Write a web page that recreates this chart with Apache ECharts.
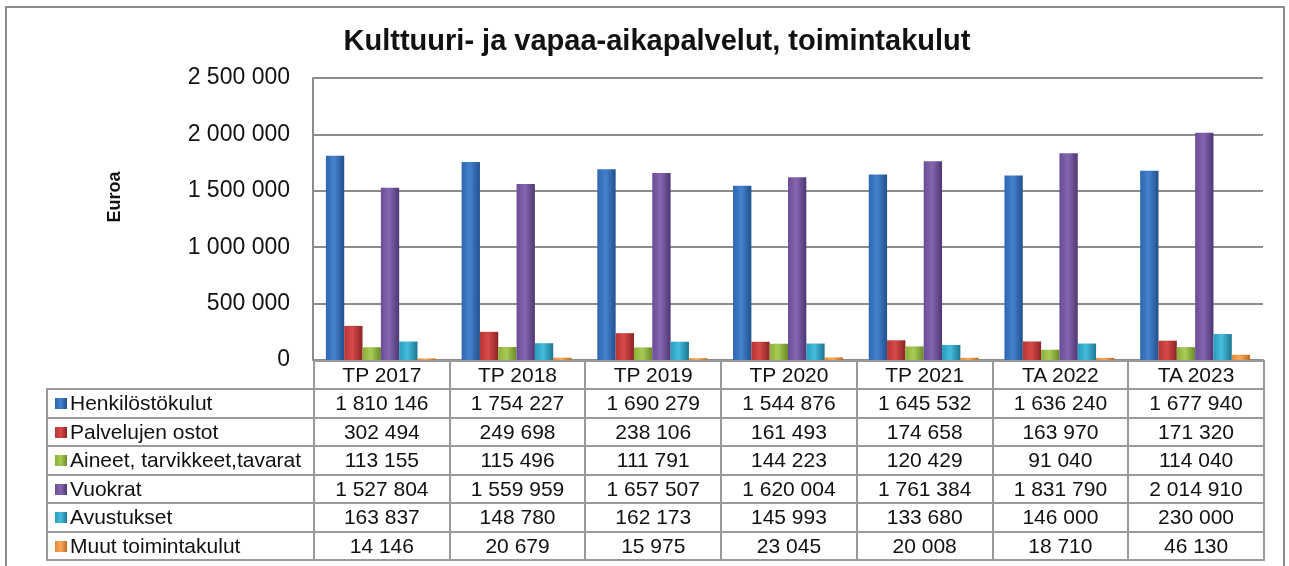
<!DOCTYPE html>
<html lang="fi">
<head>
    <meta charset="UTF-8">
    <title>Kulttuuri- ja vapaa-aikapalvelut</title>
    <script src="https://cdn.jsdelivr.net/npm/echarts@6/dist/echarts.min.js"></script>
    <style>
        body {
            margin: 0;
            background: #fff;
            font-family: "Liberation Sans", Arial, sans-serif;
        }
        .frame {
            position: absolute;
            left: 5px;
            top: 6px;
            width: 1280px;
            height: 580px;
            border: 2px solid #8c8c8c;
            box-sizing: border-box;
        }
        #main {
            position: absolute;
            left: 0;
            top: 0;
            width: 1289px;
            height: 566px;
        }
        #dataTable {
            position: absolute;
            left: 46px;
            top: 360px;
            border-collapse: collapse;
            table-layout: fixed;
            font-size: 21px;
            color: #111;
        }
        #dataTable td {
            border: 2px solid #9a9a9a;
            height: 26.5px;
            padding: 0;
            text-align: center;
            white-space: nowrap;
            overflow: hidden;
        }
        #dataTable tr.head td {
            height: 26px;
        }
        #dataTable td.name {
            text-align: left;
            padding-left: 7px;
        }
        #dataTable tr.head td.blank {
            border: none;
            border-right: 2px solid #9a9a9a;
        }
        .key {
            display: inline-block;
            width: 12px;
            height: 11px;
            margin-right: 3px;
            vertical-align: 1px;
        }
    </style>
</head>
<body>
<div id="main"></div>
<div class="frame"></div>
<table id="dataTable"></table>

<script>
    var categories = ['TP 2017', 'TP 2018', 'TP 2019', 'TP 2020', 'TP 2021', 'TA 2022', 'TA 2023'];
    var seriesNames = ['Henkilöstökulut', 'Palvelujen ostot', 'Aineet, tarvikkeet,tavarat', 'Vuokrat', 'Avustukset', 'Muut toimintakulut'];

    var henkilostokulut = [1810146, 1754227, 1690279, 1544876, 1645532, 1636240, 1677940];
    var palvelujenOstot = [302494, 249698, 238106, 161493, 174658, 163970, 171320];
    var aineet = [113155, 115496, 111791, 144223, 120429, 91040, 114040];
    var vuokrat = [1527804, 1559959, 1657507, 1620004, 1761384, 1831790, 2014910];
    var avustukset = [163837, 148780, 162173, 145993, 133680, 146000, 230000];
    var muut = [14146, 20679, 15975, 23045, 20008, 18710, 46130];

    var yTicks = [0, 500000, 1000000, 1500000, 2000000, 2500000];

    var allValues = [henkilostokulut, palvelujenOstot, aineet, vuokrat, avustukset, muut];
    // dark edge / light centre / base colour, like the bevelled bars in excel
    var palette = [
        ['#22508c', '#4482cf', '#2f66ae'],
        ['#8c2424', '#d64a48', '#b53535'],
        ['#6a8a28', '#a9cc55', '#8aae3a'],
        ['#4e3672', '#8466b0', '#6b4c96'],
        ['#1c7591', '#45bddc', '#2a9cbe'],
        ['#bf6a22', '#f8a85a', '#e58a3a']
    ];

    function fmt(v) {
        return String(v).replace(/\B(?=(\d{3})+(?!\d))/g, ' ');
    }

    function barColor(c) {
        return new echarts.graphic.LinearGradient(0, 0, 1, 0, [
            { offset: 0, color: c[2] },
            { offset: 0.45, color: c[1] },
            { offset: 1, color: c[0] }
        ]);
    }

    var series = [];
    for (var i = 0; i < seriesNames.length; i++) {
        series.push({
            name: seriesNames[i],
            type: 'bar',
            data: allValues[i],
            barGap: '0%',
            barCategoryGap: '19%',
            itemStyle: { color: barColor(palette[i]) }
        });
    }

    var myChart = echarts.init(document.getElementById('main'));
    var option = {
        backgroundColor: '#fff',
        animation: false,
        title: {
            text: 'Kulttuuri- ja vapaa-aikapalvelut, toimintakulut',
            left: 652,
            top: 22,
            textAlign: 'center',
            textStyle: {
                fontFamily: 'Liberation Sans, Arial',
                fontSize: 29,
                fontWeight: 'bold',
                color: '#111'
            }
        },
        graphic: [{
            type: 'text',
            x: 115,
            y: 197,
            rotation: Math.PI / 2,
            style: {
                text: 'Euroa',
                font: 'bold 18px "Liberation Sans", Arial',
                fill: '#111',
                align: 'center',
                verticalAlign: 'middle'
            }
        }],
        grid: {
            left: 313,
            right: 26,
            top: 78,
            bottom: 206
        },
        xAxis: {
            type: 'category',
            data: categories,
            axisTick: { show: false },
            axisLabel: { show: false },
            axisLine: { lineStyle: { color: '#8c8c8c', width: 2 } }
        },
        yAxis: {
            type: 'value',
            min: yTicks[0],
            max: yTicks[yTicks.length - 1],
            interval: yTicks[1] - yTicks[0],
            axisLine: { show: true, lineStyle: { color: '#8c8c8c', width: 2 } },
            axisTick: { show: false },
            axisLabel: {
                margin: 23,
                fontFamily: 'Liberation Sans, Arial',
                fontSize: 23,
                color: '#111',
                formatter: fmt
            },
            splitLine: { lineStyle: { color: '#8c8c8c', width: 2 } }
        },
        series: series
    };
    myChart.setOption(option);

    // data table under the plot, columns follow the category axis
    var table = document.getElementById('dataTable');
    var colW = (1289 - 26 - 313) / categories.length;
    var html = '<colgroup><col style="width:267px">';
    for (var k = 0; k < categories.length; k++) {
        html += '<col style="width:' + colW + 'px">';
    }
    html += '</colgroup><tr class="head"><td class="blank"></td>';
    for (var k = 0; k < categories.length; k++) {
        html += '<td>' + categories[k] + '</td>';
    }
    html += '</tr>';
    for (var i = 0; i < seriesNames.length; i++) {
        var p = palette[i];
        html += '<tr><td class="name"><span class="key" style="background:linear-gradient(90deg,' +
            p[2] + ',' + p[1] + ',' + p[0] + ')"></span>' + seriesNames[i] + '</td>';
        for (var k = 0; k < categories.length; k++) {
            html += '<td>' + fmt(allValues[i][k]) + '</td>';
        }
        html += '</tr>';
    }
    table.innerHTML = html;
</script>
</body>
</html>
